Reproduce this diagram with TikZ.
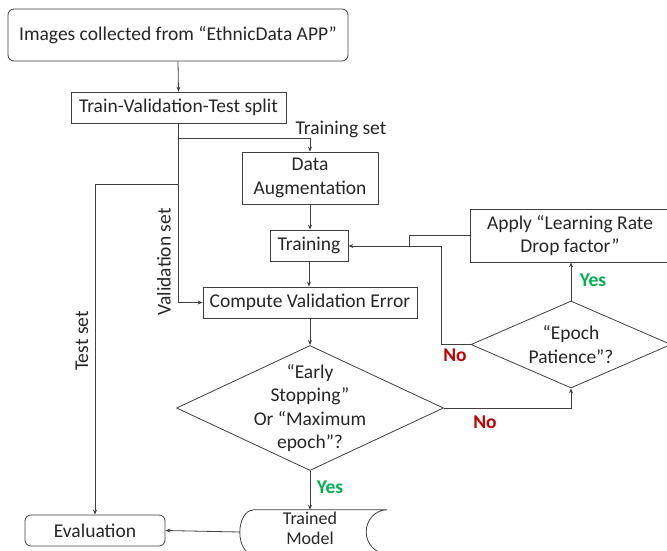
\documentclass[tikz,border=0pt]{standalone}
\usepackage{fontspec}
\setmainfont{Carlito}
\usetikzlibrary{arrows.meta,shapes.geometric}
\definecolor{lineclr}{HTML}{404040}
\definecolor{noclr}{HTML}{C00000}
\definecolor{yesclr}{HTML}{00B050}
\begin{document}
\begin{tikzpicture}[x=1pt,y=-1pt,
  every node/.style={font=\fontsize{19.5}{23.3}\selectfont, text=black!85},
  box/.style={draw=lineclr, line width=0.8pt, inner sep=0pt, align=center},
  rbox/.style={box, rounded corners=6pt},
  dia/.style={draw=lineclr, line width=0.8pt, diamond, inner sep=0pt},
  flow/.style={draw=lineclr, line width=0.8pt, -{Stealth[length=5pt,width=4pt]}},
  plain/.style={draw=lineclr, line width=0.8pt},
  lbl/.style={inner sep=0pt},
  nolbl/.style={lbl, font=\bfseries\fontsize{19.5}{23.3}\selectfont, text=noclr},
  yeslbl/.style={lbl, font=\bfseries\fontsize{19.5}{23.3}\selectfont, text=yesclr}]
\clip (0,0) rectangle (667,550);
\useasboundingbox (0,0) rectangle (667,550);

% process boxes
\node[rbox, minimum width=340pt, minimum height=52pt] (src) at (178,35) {Images collected from “EthnicData APP”};
\node[box, minimum width=215pt, minimum height=31pt] (split) at (178.5,107.5) {Train-Validation-Test split};
\node[box, minimum width=136pt, minimum height=52pt] (aug) at (310,178) {Data\\Augmentation};
\node[box, minimum width=78pt, minimum height=31pt] (train) at (309,245.5) {Training};
\node[box, minimum width=214pt, minimum height=31pt] (val) at (310,302.5) {Compute Validation Error};
\node[box, minimum width=200pt, minimum height=53pt] (lr) at (570,235.5) {Apply “Learning Rate\\Drop factor”};
\node[rbox, minimum width=140pt, minimum height=31pt] (eval) at (95,530.5) {Evaluation};

% decisions
\node[dia, minimum width=267pt, minimum height=125pt] (stop) at (310,408) {};
\node[align=center, lbl] at (stop) {“Early\\Stopping”\\Or “Maximum\\epoch”?};
\node[dia, minimum width=200pt, minimum height=87pt] (pat) at (571,344.5) {};
\node[align=center, lbl] at (pat) {“Epoch\\Patience”?};

% stored model
\node[inner sep=0pt, minimum width=147pt, minimum height=44pt] (model) at (313.5,532) {};
\draw[plain] ([xshift=13pt]model.north west) -- (model.north east)
  arc[start angle=90, end angle=270, x radius=21pt, y radius=22pt]
  -- ([xshift=13pt]model.south west)
  arc[start angle=270, end angle=90, x radius=13pt, y radius=22pt];
\node[align=center, lbl, font=\fontsize{18}{20}\selectfont] at (310,528) {Trained\\Model};

% split branches
\coordinate (j1) at (split.south |- 0,138);
\coordinate (j2) at (split.south |- 0,184);
\draw[plain] (split.south) -- (j2);
\draw[flow] (j1) -| (aug.north);
\draw[flow] (j2) -- (val.west -| j2) -- (val.west);
\draw[flow] (j2) -| (eval.north);
\node[lbl] at (341,129) {Training set};
\node[lbl, rotate=90] at (164,262) {Validation set};
\node[lbl, rotate=90] at (82,341) {Test set};

% main flow
\draw[flow] (src.south) -- (split.north);
\draw[flow] (aug.south) -- (train.north -| aug.south);
\draw[flow] (train.south) -- (val.north -| train.south);
\draw[flow] (val.south) -- (stop.north);
\draw[flow] (stop.south) -- (model.north -| stop.south);
\draw[flow] (model.west) -- (eval.east);
\node[yeslbl] at (330,487) {Yes};

% learning-rate loop
\coordinate (k1) at (409,235.5);
\coordinate (k2) at (409,246);
\coordinate (k3) at (441,246);
\draw[flow] (stop.east) -| (pat.south);
\node[nolbl] at (485,422) {No};
\draw[flow] (pat.north) -- (lr.south -| pat.north);
\node[yeslbl] at (593,280) {Yes};
\draw[plain] (pat.west) -| (k3) -- (k2);
\draw[flow] (lr.west) -- (k1) -- (k2) -- (train.east |- k2);
\node[nolbl] at (455,355) {No};
\end{tikzpicture}
\end{document}
